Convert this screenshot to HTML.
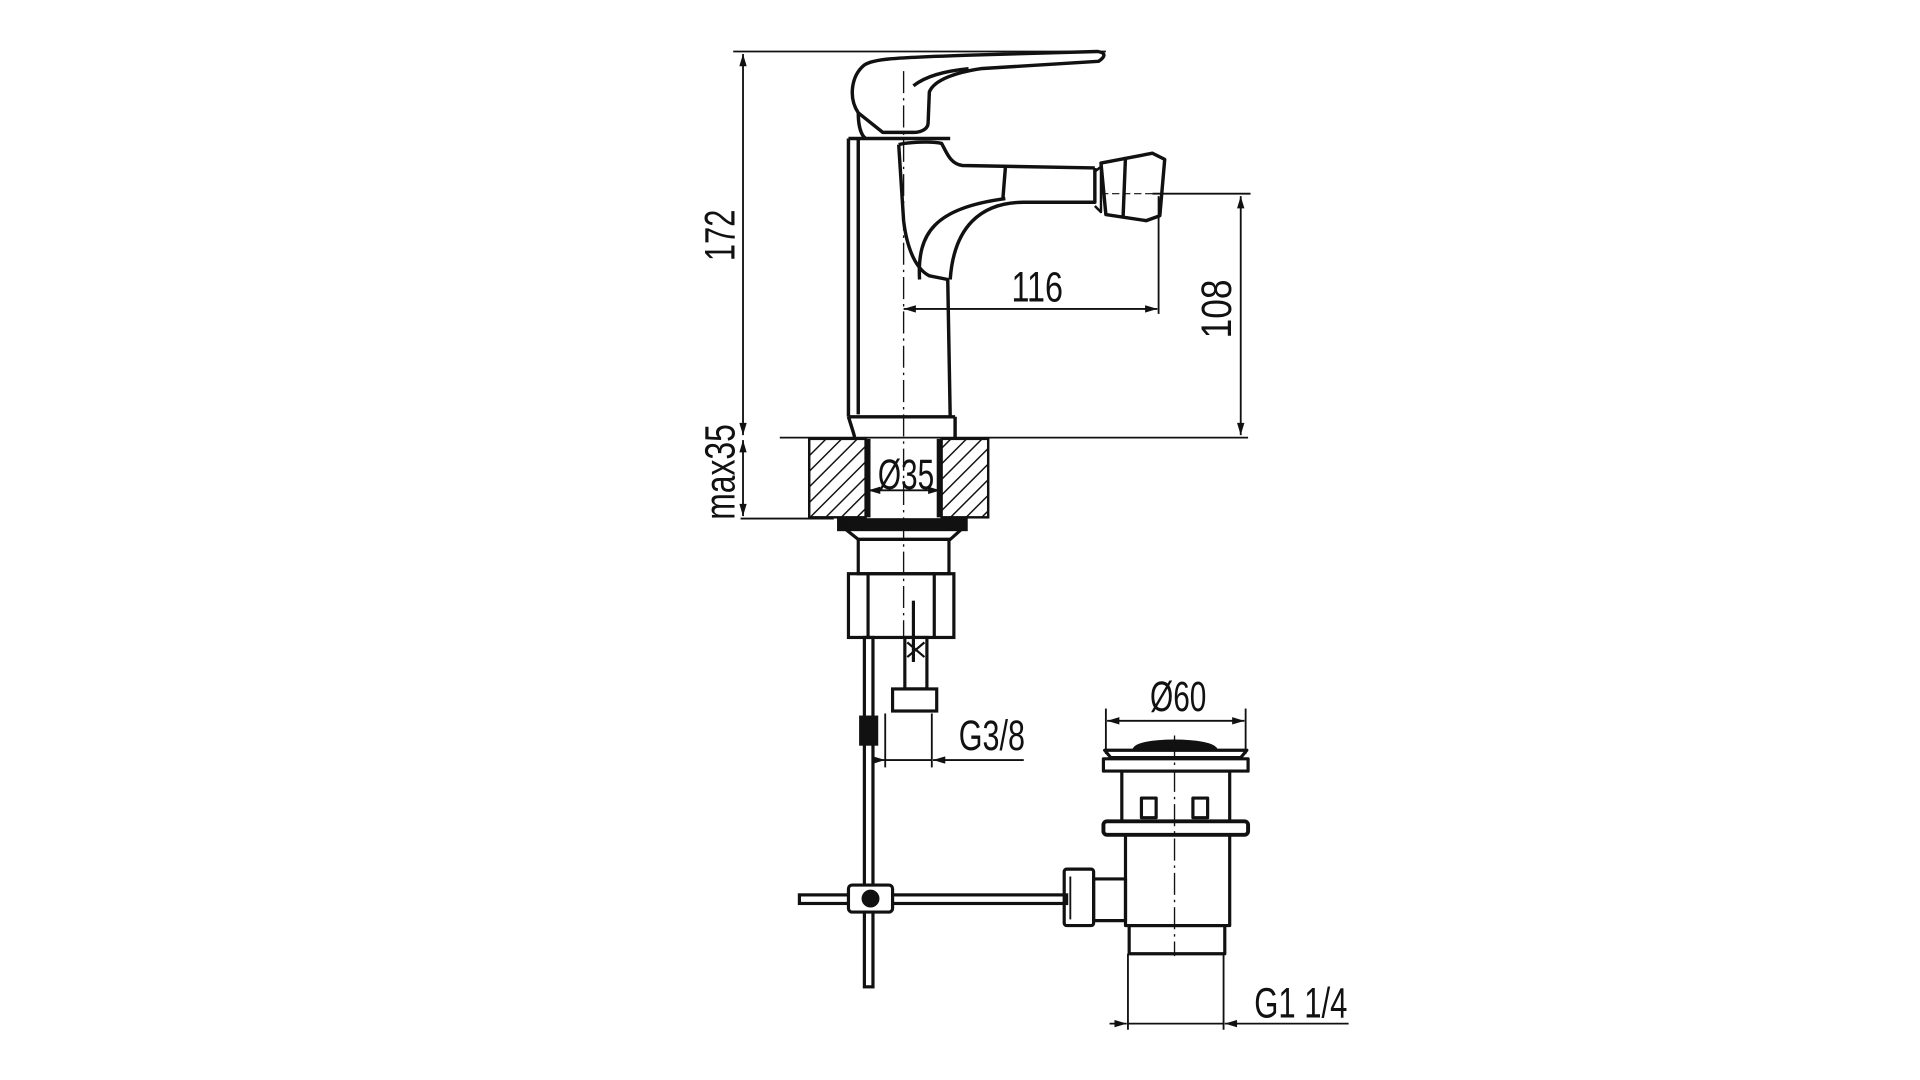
<!DOCTYPE html>
<html><head><meta charset="utf-8"><style>
html,body{margin:0;padding:0;background:#fff;}
svg{display:block}
text{font-family:"Liberation Sans",sans-serif;fill:#111;}
</style></head><body>
<svg width="1920" height="1080" viewBox="0 0 1566 881" xmlns="http://www.w3.org/2000/svg">
<defs>
<marker id="a" viewBox="0 0 10 6" refX="10" refY="3" markerWidth="11" markerHeight="6" orient="auto-start-reverse" markerUnits="userSpaceOnUse"><path d="M0,0 L10,3 L0,6 z" fill="#111"/></marker>
<pattern id="h" width="9" height="9" patternUnits="userSpaceOnUse" patternTransform="rotate(45)"><line x1="0" y1="0" x2="0" y2="9" stroke="#111" stroke-width="2.4"/></pattern>
</defs>
<g fill="none" stroke="#111" stroke-width="1.5">
<line x1="598" y1="42" x2="902" y2="42"/>
<line x1="606" y1="44" x2="606" y2="355" marker-start="url(#a)" marker-end="url(#a)"/>
<line x1="636" y1="357" x2="1018" y2="357"/>
<line x1="604" y1="423" x2="680" y2="423"/>
<line x1="606" y1="359" x2="606" y2="421" marker-start="url(#a)" marker-end="url(#a)"/>
<line x1="940" y1="158" x2="1020" y2="158"/>
<line x1="1012" y1="160" x2="1012" y2="355" marker-start="url(#a)" marker-end="url(#a)"/>
<line x1="945" y1="160" x2="945" y2="256"/>
<line x1="737" y1="252" x2="944" y2="252" marker-start="url(#a)" marker-end="url(#a)"/>
<line x1="708" y1="400" x2="767" y2="400" marker-start="url(#a)" marker-end="url(#a)"/>
<line x1="737" y1="58" x2="737" y2="520" stroke-dasharray="18,4,2,4" stroke-width="1.1"/>
</g>
<g fill="none" stroke="#111" stroke-width="2.8" stroke-linejoin="round">
<path d="M700,92 C692,80 694,62 705,53 C712,48 730,47 790,45 L895,42 C902,43 902,46 896,50 L800,56 C780,59 762,65 758,75 L757,100 C757,106 750,108 745,108 L720,108 Z"/>
<path d="M745,70 C755,62 770,58 790,56"/>
<path d="M700,92 C700,102 702,110 706,113"/>
<line x1="692" y1="113" x2="775" y2="113"/>
<path d="M692,113 L692,340 M700,113 L700,338"/>
<path d="M733,118 C740,116 760,115 768,117 C772,124 775,134 785,135 L893,137"/>
<path d="M733,118 L737,180 C740,205 748,220 758,225 L773,228 L775,340"/>
<path d="M893,137 L893,165 L835,165 C800,165 778,185 775,228"/>
<path d="M750,228 C748,190 762,170 820,162"/>
<path d="M820,137 L818,162"/>
<path d="M692,340 C695,350 697,355 697,357 M779,340 L779,357 M692,340 L779,340"/>
<path d="M893,140 L898,136 L898,173 L893,168" stroke-width="2"/>
<path d="M898,133 L940,125 L950,130 L946,176 L935,180 L902,175 Z"/>
<line x1="918" y1="128" x2="916" y2="178"/>
<line x1="898" y1="158" x2="950" y2="158" stroke-width="1" stroke-dasharray="6,3"/>
</g>
<rect x="660" y="358" width="46" height="64" fill="url(#h)" stroke="#111" stroke-width="2"/>
<rect x="768" y="358" width="38" height="64" fill="url(#h)" stroke="#111" stroke-width="2"/>
<line x1="708" y1="358" x2="708" y2="422" stroke="#111" stroke-width="4"/>
<line x1="766" y1="358" x2="766" y2="422" stroke="#111" stroke-width="4"/>
<g fill="none" stroke="#111" stroke-width="2.6">
<rect x="684" y="424" width="104" height="8" fill="#111"/>
<path d="M690,432 L700,440 L775,440 L784,432"/>
<rect x="700" y="440" width="74" height="28"/>
<rect x="692" y="468" width="86" height="52"/>
<line x1="708" y1="468" x2="708" y2="520"/>
<line x1="762" y1="468" x2="762" y2="520"/>
<line x1="745" y1="490" x2="745" y2="540"/>
<path d="M738,520 L756,520 L756,562 L738,562 Z"/>
<path d="M740,524 L754,536 M754,524 L740,536" stroke-width="1.8"/>
<rect x="728" y="562" width="36" height="18"/>
<rect x="705" y="520" width="7" height="285"/>
<rect x="702" y="585" width="13" height="22" fill="#111"/>
<rect x="652" y="730" width="218" height="7"/>
<rect x="692" y="722" width="36" height="22" rx="3" fill="#fff"/>
<circle cx="710" cy="733" r="6" fill="#111"/>
</g>
<g fill="none" stroke="#111" stroke-width="1.5">
<line x1="722" y1="582" x2="722" y2="626"/>
<line x1="760" y1="582" x2="760" y2="626"/>
<line x1="712" y1="620" x2="722" y2="620" marker-end="url(#a)"/>
<line x1="722" y1="620" x2="760" y2="620"/>
<line x1="835" y1="620" x2="761" y2="620" marker-end="url(#a)"/>
<line x1="902" y1="578" x2="902" y2="615"/>
<line x1="1016" y1="578" x2="1016" y2="615"/>
<line x1="903" y1="588" x2="1015" y2="588" marker-start="url(#a)" marker-end="url(#a)"/>
<line x1="920" y1="778" x2="920" y2="840"/>
<line x1="998" y1="778" x2="998" y2="840"/>
<line x1="905" y1="835" x2="919" y2="835" marker-end="url(#a)"/>
<line x1="920" y1="835" x2="998" y2="835"/>
<line x1="1100" y1="835" x2="999" y2="835" marker-end="url(#a)"/>
<line x1="958" y1="600" x2="958" y2="780" stroke-dasharray="18,4,2,4" stroke-width="1.1"/>
</g>
<g fill="none" stroke="#111" stroke-width="2.6" stroke-linejoin="round">
<path d="M925,612 C925,602 990,602 992,612" fill="#111"/>
<path d="M901,612 L1017,612 L1012,618 L906,618 Z"/>
<rect x="900" y="619" width="118" height="10"/>
<rect x="915" y="629" width="88" height="41"/>
<rect x="931" y="651" width="12" height="16"/>
<rect x="973" y="651" width="12" height="16"/>
<rect x="900" y="670" width="118" height="11" rx="3" stroke-width="3.2"/>
<rect x="918" y="681" width="85" height="74"/>
<rect x="921" y="755" width="78" height="23"/>
<rect x="868" y="709" width="24" height="46" rx="2"/>
<line x1="873" y1="715" x2="873" y2="750" stroke-width="1.5"/>
<rect x="892" y="717" width="26" height="34"/>
</g>
<g font-size="35">
<text transform="translate(599,192) rotate(-90)" text-anchor="middle" textLength="42" lengthAdjust="spacingAndGlyphs">172</text>
<text transform="translate(599,385) rotate(-90)" text-anchor="middle" textLength="78" lengthAdjust="spacingAndGlyphs">max35</text>
<text transform="translate(1004,252) rotate(-90)" text-anchor="middle" textLength="48" lengthAdjust="spacingAndGlyphs">108</text>
<text x="846" y="246" text-anchor="middle" textLength="42" lengthAdjust="spacingAndGlyphs">116</text>
<text x="739" y="399" text-anchor="middle" textLength="46" lengthAdjust="spacingAndGlyphs">Ø35</text>
<text x="809" y="612" text-anchor="middle" textLength="54" lengthAdjust="spacingAndGlyphs">G3/8</text>
<text x="961" y="580" text-anchor="middle" textLength="46" lengthAdjust="spacingAndGlyphs">Ø60</text>
<text x="1061" y="830" text-anchor="middle" textLength="76" lengthAdjust="spacingAndGlyphs">G1 1/4</text>
</g>
</svg>
</body></html>
